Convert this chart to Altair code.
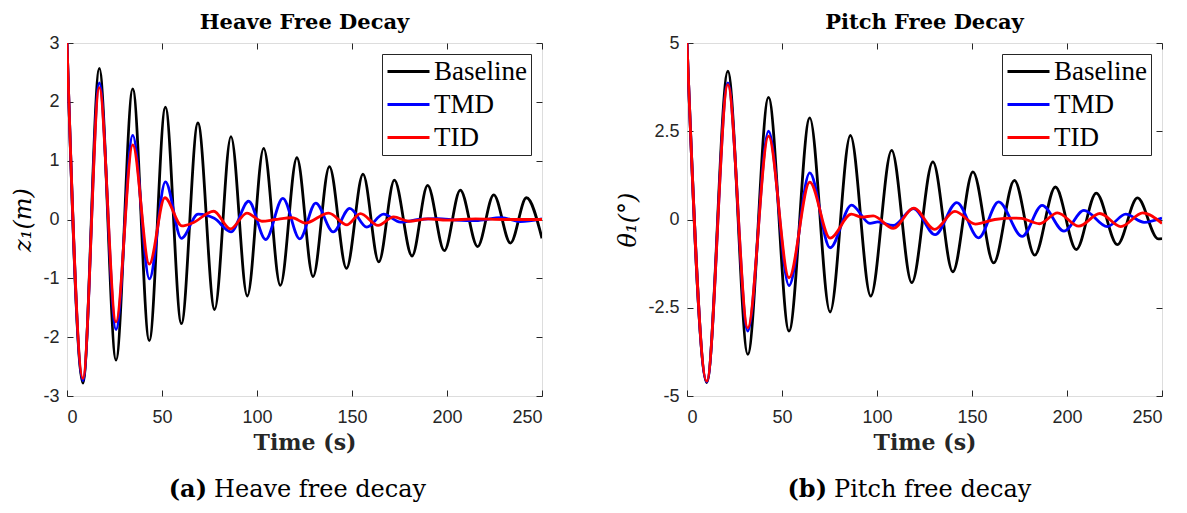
import altair as alt
import pandas as pd

# ---------------- data ----------------
time_ticks = [0, 50, 100, 150, 200, 250]
heave_ticks = [-3, -2, -1, 0, 1, 2, 3]
pitch_ticks = [-5, -2.5, 0, 2.5, 5]
series_names = ["Baseline", "TMD", "TID"]
series_colors = ["#000000", "#0000ff", "#ff0000"]

# Heave free decay: extrema (time s, z1 m)
heave_baseline_t = [0, 8.4, 17.0, 25.8, 34.6, 43.3, 51.8, 60.2, 68.9, 77.7, 86.3, 94.9, 103.5, 112.3,
                    121.0, 129.5, 138.1, 147.1, 155.8, 164.1, 172.3, 181.6, 189.8, 198.6, 207.0, 216.1,
                    224.6, 233.4, 241.8, 250]
heave_baseline_v = [3, -2.78, 2.57, -2.39, 2.22, -2.06, 1.91, -1.77, 1.64, -1.53, 1.41, -1.30, 1.21, -1.12,
                    1.05, -0.97, 0.90, -0.83, 0.77, -0.72, 0.67, -0.62, 0.58, -0.53, 0.50, -0.46,
                    0.42, -0.40, 0.37, -0.32]
heave_tmd_t = [0, 8.4, 17.0, 25.8, 34.6, 43.4, 51.8, 60.2, 69.0, 77.5, 86.3, 95.6, 104.6, 113.6, 122.5,
               130.9, 140.1, 148.8, 157.8, 166.6, 175.5, 185, 195, 205, 215, 228.8, 238.6, 250]
heave_tmd_v = [3, -2.74, 2.32, -1.87, 1.43, -1.01, 0.64, -0.32, 0.09, 0.02, -0.21, 0.31, -0.34, 0.36, -0.33,
               0.28, -0.21, 0.19, -0.13, 0.09, -0.045, 0.0, 0.015, -0.01, -0.02, 0.03, -0.035, 0.01]
heave_tid_t = [0, 8.4, 17.0, 25.8, 34.6, 43.3, 51.5, 60.5, 66, 77.2, 86.0, 94.7, 102.6, 109.7, 118.4,
               125.5, 137.7, 147.4, 154.4, 163.7, 171.9, 179.8, 190, 200, 215, 230, 250]
heave_tid_v = [3, -2.70, 2.24, -1.74, 1.27, -0.76, 0.37, -0.11, -0.06, 0.14, -0.16, 0.11, -0.03, 0.0, 0.03,
               -0.06, 0.11, -0.09, 0.10, -0.10, 0.045, -0.03, 0.01, -0.01, 0.01, 0.0, 0.0]

# Pitch free decay: extrema (time s, theta1 deg)
pitch_baseline_t = [0, 10.4, 21.5, 32.0, 42.9, 53.7, 64.6, 75.3, 86.0, 96.7, 107.7, 118.3, 129.4, 139.9,
                    150.5, 161.4, 172.3, 183.0, 193.9, 204.9, 215.4, 226.5, 237.1, 248.0, 250]
pitch_baseline_v = [5, -4.62, 4.20, -3.82, 3.46, -3.16, 2.88, -2.62, 2.38, -2.17, 1.96, -1.79, 1.63, -1.48,
                    1.35, -1.23, 1.11, -1.01, 0.92, -0.85, 0.75, -0.71, 0.61, -0.55, -0.54]
pitch_tmd_t = [0, 10.4, 21.5, 32.0, 42.9, 53.7, 64.6, 75.3, 86.6, 96.3, 100.5, 108.5, 119.2, 130.6, 142.0,
               153.5, 164.0, 176.4, 186.9, 198.4, 208.9, 221.2, 230.9, 240.6, 250]
pitch_tmd_v = [5, -4.60, 3.87, -3.16, 2.50, -1.87, 1.32, -0.80, 0.41, -0.11, -0.07, -0.17, 0.31, -0.43, 0.48,
               -0.52, 0.50, -0.48, 0.40, -0.33, 0.26, -0.20, 0.15, -0.08, 0.04]
pitch_tid_t = [0, 10.4, 21.5, 32.0, 42.9, 53.7, 64.6, 75.3, 86.5, 92, 98, 108.5, 119.4, 130.3, 141.0,
               151.8, 162, 172, 176, 185.5, 195.0, 206.2, 217.3, 228.3, 239.9, 250]
pitch_tid_v = [5, -4.58, 3.82, -3.07, 2.36, -1.65, 1.06, -0.53, 0.15, 0.07, 0.10, -0.25, 0.32, -0.28, 0.23,
               -0.13, 0.0, 0.04, 0.03, -0.12, 0.19, -0.19, 0.17, -0.20, 0.19, -0.11]

W, H = 475, 353
AXIS_COLOR = "#262626"
# long horizontal legend stroke: path spans 4 symbol radii
LEGEND_LINE = "M-2,0H2"


def frame(ts, vs, name):
    return pd.DataFrame({"t": ts, "v": vs, "series": name})


def panel(series_data, ticks, ydomain, title, ytitle, cap_a, cap_text):
    color = alt.Color(
        "series:N",
        scale=alt.Scale(domain=series_names, range=series_colors),
        legend=alt.Legend(
            title=None, orient="top-right", offset=11, padding=4,
            strokeColor=AXIS_COLOR, fillColor="white", cornerRadius=0,
            symbolType=LEGEND_LINE, symbolSize=441, symbolStrokeWidth=3,
            symbolOffset=9, labelOffset=12,
            labelFont="Liberation Serif", labelFontSize=27, labelColor="black",
            rowPadding=5,
        ),
    )
    xenc = alt.X(
        "t:Q", scale=alt.Scale(domain=[0, 250], nice=False),
        axis=alt.Axis(values=time_ticks, title="Time (s)", ticks=False, domain=False,
                      grid=True, gridDash=[6, H - 12], gridColor=AXIS_COLOR, gridOpacity=1,
                      labelFont="Liberation Sans", labelFontSize=18, labelColor=AXIS_COLOR,
                      labelPadding=12, labelExpr="'' + datum.value",
                      titleFont="DejaVu Serif", titleFontSize=22, titleFontWeight="bold",
                      titleColor=AXIS_COLOR, titlePadding=6),
    )
    yenc = alt.Y(
        "v:Q", scale=alt.Scale(domain=ydomain, nice=False, zero=False),
        axis=alt.Axis(values=ticks, title=ytitle, ticks=False, domain=False,
                      grid=True, gridDash=[6, W - 12], gridColor=AXIS_COLOR, gridOpacity=1,
                      labelFont="Liberation Sans", labelFontSize=18, labelColor=AXIS_COLOR,
                      labelPadding=8, labelExpr="'' + datum.value",
                      titleFont="DejaVu Serif", titleFontSize=24, titleFontStyle="italic",
                      titleFontWeight="normal", titleColor="black", titlePadding=7),
    )
    layers = []
    for name, (ts, vs) in zip(series_names, series_data):
        layers.append(
            alt.Chart(frame(ts, vs, name))
            .mark_line(interpolate="monotone", strokeWidth=2.8, clip=True)
            .encode(x=xenc, y=yenc, color=color)
        )
    cap_df = pd.DataFrame({"a": [cap_a], "b": [cap_text]})
    cap1 = alt.Chart(cap_df).mark_text(
        font="DejaVu Serif", fontSize=24, fontWeight="bold", align="right",
        baseline="alphabetic", color="black"
    ).encode(text="a:N", x=alt.value(140), y=alt.value(H + 101))
    cap2 = alt.Chart(cap_df).mark_text(
        font="DejaVu Serif", fontSize=24, fontWeight="normal", align="left",
        baseline="alphabetic", color="black"
    ).encode(text="b:N", x=alt.value(147), y=alt.value(H + 101))
    return alt.layer(*layers, cap1, cap2).properties(
        width=W, height=H,
        title=alt.TitleParams(title, font="DejaVu Serif", fontSize=21, fontWeight="bold",
                              color="black", offset=1, anchor="middle"),
    )


left = panel(
    [(heave_baseline_t, heave_baseline_v), (heave_tmd_t, heave_tmd_v), (heave_tid_t, heave_tid_v)],
    heave_ticks, [-3, 3], "Heave Free Decay", "z\u2081(m)", "(a)", "Heave free decay",
)
right = panel(
    [(pitch_baseline_t, pitch_baseline_v), (pitch_tmd_t, pitch_tmd_v), (pitch_tid_t, pitch_tid_v)],
    pitch_ticks, [-5, 5], "Pitch Free Decay", "\u03b8\u2081(\u00b0)", "(b)", "Pitch free decay",
)

chart = (
    alt.hconcat(left, right, spacing=73)
    .resolve_scale(color="independent", y="independent")
    .resolve_legend(color="independent")
    .properties(padding={"left": 3, "top": 3, "right": 5, "bottom": 0})
    .configure_view(stroke=AXIS_COLOR, strokeWidth=1)
    .configure(background="white")
)

chart.save("out.html", embed_options={"renderer": "svg", "actions": False})
